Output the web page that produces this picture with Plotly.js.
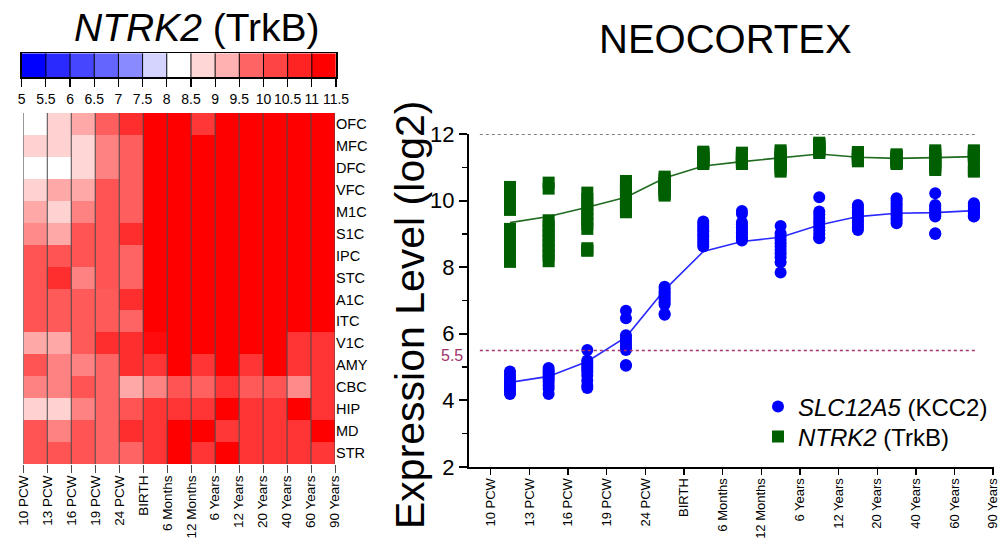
<!DOCTYPE html>
<html>
<head>
<meta charset="utf-8">
<script src="https://cdn.plot.ly/plotly-3.0.1.min.js"></script>
<style>html,body{margin:0;padding:0;background:#fff;}#chart{width:1000px;height:547px;}</style>
</head>
<body>
<div id="chart"></div>
<script>
// ---------- DATA ----------
const ageLabels = ['10 PCW','13 PCW','16 PCW','19 PCW','24 PCW','BIRTH','6 Months','12 Months','6 Years','12 Years','20 Years','40 Years','60 Years','90 Years'];
const regions = ['OFC','MFC','DFC','VFC','M1C','S1C','IPC','STC','A1C','ITC','V1C','AMY','CBC','HIP','MD','STR'];

// NTRK2 heatmap values (rows = regions, cols = 13 age windows)
const ntrk2Heat = [
  [8.25, 8.8, 9.3, 9.85, 10.6, 11.25, 11.25, 10.45, 11.25, 11.25, 11.25, 11.25, 11.25],
  [8.8, 8.8, 8.75, 9.55, 9.85, 11.25, 11.25, 11.25, 11.25, 11.25, 11.25, 11.25, 11.25],
  [8.25, 8.25, 8.75, 9.55, 9.85, 11.25, 11.25, 11.25, 11.25, 11.25, 11.25, 11.25, 11.25],
  [8.8, 9.3, 9.3, 10.0, 9.85, 11.25, 11.25, 11.25, 11.25, 11.25, 11.25, 11.25, 11.25],
  [9.3, 8.8, 9.55, 10.0, 9.85, 11.25, 11.25, 11.25, 11.25, 11.25, 11.25, 11.25, 11.25],
  [9.5, 9.3, 10.0, 10.0, 10.6, 11.25, 11.25, 11.25, 11.25, 11.25, 11.25, 11.25, 11.25],
  [10.0, 10.0, 10.0, 10.0, 9.75, 11.25, 11.25, 11.25, 11.25, 11.25, 11.25, 11.25, 11.25],
  [10.0, 10.6, 9.55, 10.0, 9.75, 11.25, 11.25, 11.25, 11.25, 11.25, 11.25, 11.25, 11.25],
  [10.0, 9.9, 9.9, 9.9, 10.6, 11.25, 11.25, 11.25, 11.25, 11.25, 11.25, 11.25, 11.25],
  [10.0, 9.9, 9.9, 9.9, 9.75, 11.25, 11.25, 11.25, 11.25, 11.25, 11.25, 11.25, 11.25],
  [9.3, 9.3, 9.9, 10.6, 10.6, 11.1, 11.25, 11.25, 11.25, 11.25, 11.25, 10.5, 10.5],
  [10.0, 9.55, 9.55, 9.75, 10.6, 10.5, 11.25, 10.5, 11.25, 10.5, 11.25, 10.5, 10.5],
  [9.55, 9.55, 10.0, 9.75, 9.3, 9.55, 10.0, 9.8, 10.5, 9.9, 10.0, 9.5, 10.5],
  [8.8, 8.8, 9.55, 9.75, 10.0, 10.5, 10.5, 10.5, 11.25, 10.5, 10.5, 11.25, 10.5],
  [10.0, 9.55, 10.0, 9.75, 10.6, 10.5, 11.25, 11.25, 10.45, 10.5, 10.5, 10.5, 11.25],
  [10.0, 10.0, 10.0, 9.75, 9.75, 10.5, 11.25, 10.5, 11.25, 10.5, 10.5, 10.5, 10.45]
];

// colour key
const colorBins = [5, 5.5, 6, 6.5, 7, 7.5, 8, 8.5, 9, 9.5, 10, 10.5, 11, 11.5];
const binColors = ['#0000FF','#2A2AFF','#4646FF','#6464FF','#8A8AFF','#D4D4FF','#FFFFFF','#FFD6D6','#FFB0B0','#FF6464','#FF4444','#FF2424','#FF0000'];

// NEOCORTEX scatter: SLC12A5 (KCC2) per age window
const kcc2Groups = [
  [4.87, 4.78, 4.70, 4.62, 4.55, 4.50, 4.45, 4.38, 4.30, 4.24, 4.19],
  [4.97, 4.90, 4.85, 4.80, 4.74, 4.68, 4.62, 4.55, 4.45, 4.35, 4.19],
  [5.51, 5.20, 5.12, 5.05, 4.98, 4.92, 4.85, 4.75, 4.60, 4.45, 4.37],
  [6.69, 6.47, 5.96, 5.88, 5.80, 5.72, 5.65, 5.58, 5.51, 5.06, 5.04],
  [7.41, 7.35, 7.28, 7.22, 7.15, 7.08, 7.02, 6.95, 6.88, 6.60, 6.57],
  [9.37, 9.30, 9.22, 9.15, 9.08, 9.00, 8.93, 8.85, 8.77, 8.70, 8.62],
  [9.69, 9.60, 9.35, 9.28, 9.20, 9.12, 9.05, 8.98, 8.90, 8.85, 8.80],
  [9.24, 9.02, 8.92, 8.82, 8.72, 8.62, 8.52, 8.42, 8.30, 8.15, 7.84],
  [10.10, 9.67, 9.58, 9.48, 9.38, 9.30, 9.20, 9.10, 9.00, 8.90, 8.87],
  [9.87, 9.80, 9.72, 9.65, 9.58, 9.50, 9.42, 9.35, 9.27, 9.20, 9.12],
  [10.07, 10.00, 9.92, 9.85, 9.78, 9.70, 9.62, 9.55, 9.47, 9.40, 9.32],
  [10.22, 9.87, 9.82, 9.76, 9.70, 9.65, 9.60, 9.55, 9.52, 9.02, 9.00],
  [9.92, 9.88, 9.83, 9.78, 9.73, 9.68, 9.64, 9.60, 9.56, 9.53, 9.52]
];
const kcc2Trend = [4.54, 4.72, 5.17, 5.9, 7.32, 8.47, 8.77, 8.9, 9.27, 9.52, 9.62, 9.64, 9.7];

// NEOCORTEX scatter: NTRK2 (TrkB) per age window
const trkbGroups = [
  [10.41, 10.2, 9.98, 9.72, 9.15, 8.95, 8.75, 8.6, 8.45, 8.3, 8.16],
  [10.54, 10.36, 9.41, 9.25, 9.1, 8.95, 8.8, 8.65, 8.5, 8.35, 8.18],
  [10.24, 10.05, 9.9, 9.75, 9.6, 9.45, 9.3, 9.15, 8.57, 8.5, 8.5],
  [10.59, 10.5, 10.4, 10.3, 10.2, 10.1, 10.0, 9.9, 9.8, 9.72, 9.65],
  [10.72, 10.66, 10.6, 10.55, 10.5, 10.45, 10.4, 10.33, 10.26, 10.2, 10.15],
  [11.47, 11.43, 11.4, 11.36, 11.32, 11.28, 11.24, 11.2, 11.16, 11.13, 11.1],
  [11.44, 11.4, 11.37, 11.34, 11.3, 11.27, 11.23, 11.2, 11.16, 11.13, 11.1],
  [11.51, 11.45, 11.38, 11.32, 11.26, 11.2, 11.14, 11.07, 11.0, 10.94, 10.87],
  [11.74, 11.71, 11.68, 11.65, 11.62, 11.59, 11.56, 11.52, 11.49, 11.46, 11.43],
  [11.46, 11.43, 11.4, 11.38, 11.35, 11.32, 11.29, 11.26, 11.24, 11.21, 11.18],
  [11.39, 11.36, 11.33, 11.3, 11.27, 11.24, 11.21, 11.18, 11.15, 11.13, 11.1],
  [11.51, 11.45, 11.39, 11.33, 11.27, 11.21, 11.15, 11.09, 11.03, 10.97, 10.92],
  [11.51, 11.47, 11.43, 11.39, 11.35, 11.32, 11.3, 11.3, 10.95, 10.9, 10.87]
];
const trkbTrend = [9.34, 9.52, 9.8, 10.1, 10.68, 11.04, 11.17, 11.29, 11.4, 11.3, 11.27, 11.29, 11.32];

const refHigh = 12;
const refLow = 5.5;

// ---------- BUILD ----------
const FONT = 'Liberation Sans, Arial, Helvetica, sans-serif';
const nCols = ageLabels.length - 1;
const colIdx = Array.from({length: nCols}, (_, i) => i);
const boundaryVals = ageLabels.map((_, i) => i - 0.5);

// colourscale anchored at bin centres
const cs = [[0, binColors[0]]];
binColors.forEach((c, i) => {
  const centre = (colorBins[i] + colorBins[i + 1]) / 2;
  cs.push([(centre - 5) / 6.5, c]);
});
cs.push([1, binColors[binColors.length - 1]]);
const binCentres = binColors.map((_, i) => (colorBins[i] + colorBins[i + 1]) / 2);

const heat = {
  type: 'heatmap', z: ntrk2Heat, x: colIdx, y: regions.map((_, i) => i),
  colorscale: cs, zmin: 5, zmax: 11.5, showscale: false, xaxis: 'x', yaxis: 'y', hoverinfo: 'skip'
};
const key = {
  type: 'heatmap', z: [binCentres], x: binCentres, y: [0],
  colorscale: cs, zmin: 5, zmax: 11.5, showscale: false, xaxis: 'x2', yaxis: 'y2', hoverinfo: 'skip'
};

function flatX(groups) { const a = []; groups.forEach((g, i) => g.forEach(() => a.push(i))); return a; }
function flatY(groups) { const a = []; groups.forEach(g => g.forEach(v => a.push(v))); return a; }

const trkbLine = { type: 'scatter', mode: 'lines', x: colIdx, y: trkbTrend, xaxis: 'x3', yaxis: 'y3',
  line: {color: '#1f6b1f', width: 1.6}, showlegend: false, hoverinfo: 'skip' };
const kcc2Line = { type: 'scatter', mode: 'lines', x: colIdx, y: kcc2Trend, xaxis: 'x3', yaxis: 'y3',
  line: {color: '#2a2aff', width: 1.6}, showlegend: false, hoverinfo: 'skip' };
const trkbPts = { type: 'scatter', mode: 'markers', x: flatX(trkbGroups), y: flatY(trkbGroups), xaxis: 'x3', yaxis: 'y3',
  name: '<i>NTRK2</i> (TrkB)', marker: {symbol: 'square', size: 12, color: '#005f00'}, legend: 'legend2' };
const kcc2Pts = { type: 'scatter', mode: 'markers', x: flatX(kcc2Groups), y: flatY(kcc2Groups), xaxis: 'x3', yaxis: 'y3',
  name: '<i>SLC12A5</i> (KCC2)', marker: {symbol: 'circle', size: 12, color: '#0000ff'}, legend: 'legend' };

const shapes = [];
boundaryVals.forEach(v => shapes.push({type: 'line', xref: 'x', yref: 'y domain', x0: v, x1: v, y0: 0, y1: 1,
  line: {color: '#4a4a4a', width: 1}}));
colorBins.slice(1, -1).forEach(v => shapes.push({type: 'line', xref: 'x2', yref: 'y2 domain', x0: v, x1: v, y0: 0, y1: 1,
  line: {color: '#000', width: 1}}));
shapes.push({type: 'line', xref: 'x3', yref: 'y3', x0: -0.78, x1: 12.05, y0: refHigh, y1: refHigh,
  line: {color: '#555', width: 1.5, dash: 'dot'}});
shapes.push({type: 'line', xref: 'x3', yref: 'y3', x0: -0.78, x1: 12.05, y0: refLow, y1: refLow,
  line: {color: '#a3336b', width: 1.5, dash: 'dot'}});

const legendBase = {x: 0.758, xanchor: 'left', yanchor: 'middle', font: {size: 24, family: FONT}, bgcolor: 'rgba(0,0,0,0)'};

const layout = {
  width: 1000, height: 547, margin: {l: 0, r: 0, t: 0, b: 0},
  paper_bgcolor: '#fff', plot_bgcolor: '#fff',
  font: {family: FONT, color: '#000'},
  showlegend: true,
  legend: Object.assign({}, legendBase, {y: (547 - 407) / 547}),
  legend2: Object.assign({}, legendBase, {y: (547 - 437) / 547}),
  xaxis: {domain: [0.0233, 0.335], range: [-0.5, 12.5], tickvals: boundaryVals, ticktext: ageLabels, tickangle: -90,
    ticks: 'outside', ticklen: 8, tickcolor: '#4a4a4a', tickfont: {size: 13.5}, showgrid: false, zeroline: false, anchor: 'y',
    ticklabeloverflow: 'allow', ticklabelstandoff: -3},
  yaxis: {domain: [0.1517, 0.7934], range: [15.5, -0.5], tickvals: regions.map((_, i) => i), ticktext: regions, side: 'right',
    ticks: '', tickfont: {size: 14.5}, showgrid: false, zeroline: false, anchor: 'x'},
  xaxis2: {domain: [0.0217, 0.336], range: [5, 11.5], tickvals: colorBins, ticktext: colorBins.map(String),
    ticks: 'outside', ticklen: 8, tickcolor: '#000', tickwidth: 1.2, tickfont: {size: 14}, showgrid: false, zeroline: false,
    showline: true, mirror: true, linecolor: '#000', linewidth: 1.5, anchor: 'y2', ticklabeloverflow: 'allow'},
  yaxis2: {domain: [0.8587, 0.9026], range: [-0.5, 0.5], showticklabels: false, ticks: '', showgrid: false, zeroline: false,
    showline: true, mirror: true, linecolor: '#000', linewidth: 1.5, anchor: 'x2'},
  xaxis3: {domain: [0.469, 0.994], range: [-1.06, 12.52], tickvals: boundaryVals, ticktext: ageLabels, tickangle: -90,
    ticks: 'outside', ticklen: 6, tickwidth: 1.5, tickcolor: '#000', tickfont: {size: 13}, showgrid: false, zeroline: false,
    showline: true, linecolor: '#000', linewidth: 2, anchor: 'y3', ticklabeloverflow: 'allow', ticklabelstandoff: -2},
  yaxis3: {domain: [0.1463, 0.755], range: [2, 12], tickvals: [2, 4, 6, 8, 10, 12], ticks: 'outside', ticklen: 8, tickwidth: 2,
    tickcolor: '#000', tickfont: {size: 22}, showgrid: false, zeroline: false, showline: true, linecolor: '#000', linewidth: 2,
    minor: {dtick: 1, tick0: 0, ticks: 'outside', ticklen: 5, tickwidth: 1.5, tickcolor: '#000', showgrid: false}, anchor: 'x3'},
  shapes: shapes,
  annotations: [
    {text: '<i>NTRK2</i> (TrkB)', xref: 'paper', yref: 'paper', x: 0.197, y: (547 - 27) / 547, xanchor: 'center', yanchor: 'middle',
      showarrow: false, font: {size: 39, family: FONT}},
    {text: 'NEOCORTEX', xref: 'paper', yref: 'paper', x: 0.725, y: (547 - 39) / 547, xanchor: 'center', yanchor: 'middle',
      showarrow: false, font: {size: 40, family: FONT}},
    {text: 'Expression Level (log2)', xref: 'paper', yref: 'paper', x: 0.41, y: (547 - 315) / 547, xanchor: 'center', yanchor: 'middle',
      textangle: -90, showarrow: false, font: {size: 41, family: FONT}},
    {text: String(refLow), xref: 'paper', yref: 'y3', x: 0.4645, y: refLow, xanchor: 'right', yanchor: 'middle', yshift: -5,
      showarrow: false, font: {size: 16, family: FONT, color: '#a3336b'}}
  ]
};

Plotly.newPlot('chart', [heat, key, trkbLine, kcc2Line, kcc2Pts, trkbPts], layout, {displayModeBar: false, staticPlot: true});
</script>
</body>
</html>
